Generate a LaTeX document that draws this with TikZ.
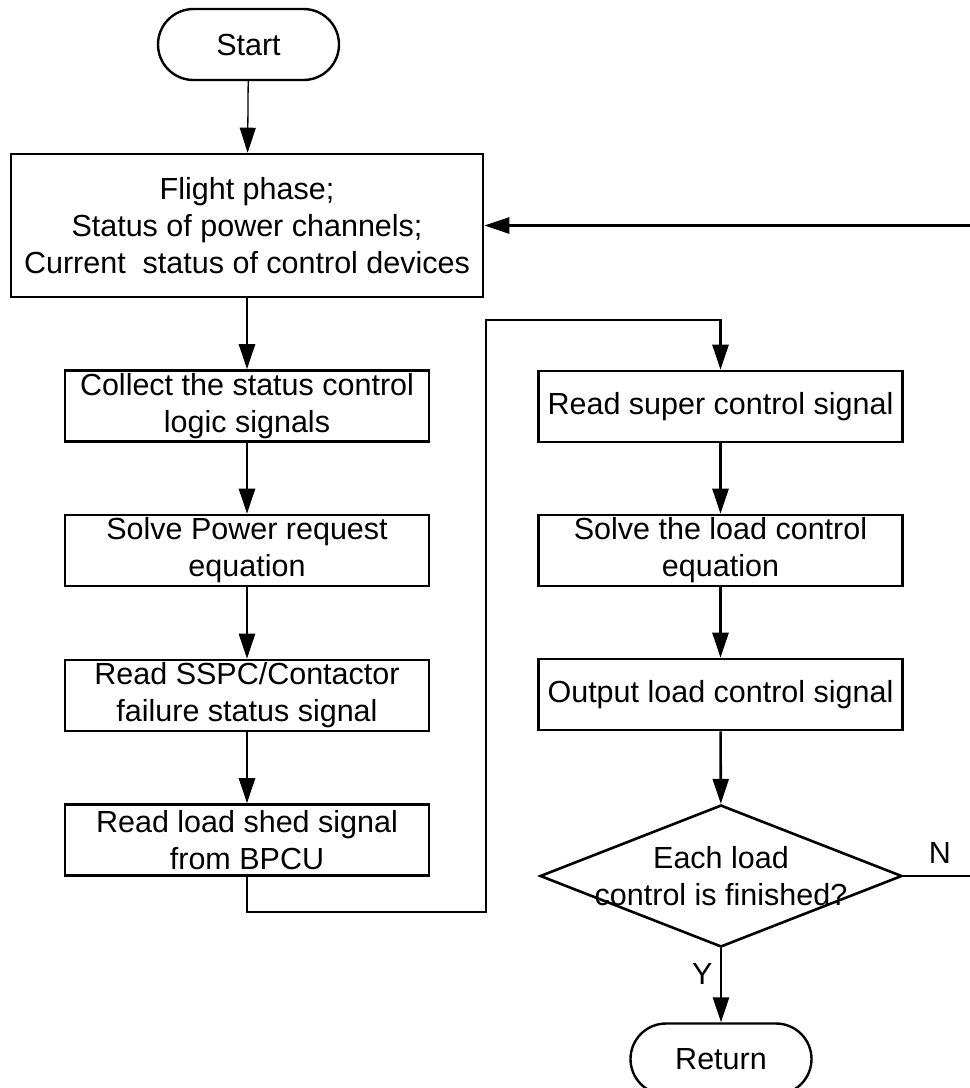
\documentclass[tikz,border=0pt]{standalone}
\usepackage{fontspec}
\setmainfont{Liberation Sans}
\usetikzlibrary{arrows.meta,shapes.geometric,shapes.misc}

\begin{document}
\begin{tikzpicture}[x=1pt, y=-1pt,
		txt/.style={font=\fontsize{30.5}{37}\selectfont},
		box/.style={txt, rectangle, draw, line width=2.6pt, minimum width=364pt, minimum height=71pt, inner sep=0pt, align=center},
		term/.style={txt, rounded rectangle, draw, line width=2.4pt, minimum width=181pt, minimum height=71pt, inner sep=0pt},
		flow/.style={-{Triangle[length=25pt, width=16pt]}, line width=2.6pt}]
		\useasboundingbox (0,0) rectangle (970,1088);

		\node[term] (start) at (248.5,44.5) {Start};
		\node[box, minimum width=472pt, minimum height=143pt] (phase) at (247,225.5) {Flight phase;\\Status of power channels;\\Current\ \ status of control devices};

		% left column
		\node[box] (collect) at (247,406) {Collect the status control\\logic signals};
		\node[box] (request) at (247,550.5) {Solve Power request\\equation};
		\node[box] (failure) at (247,695.5) {Read SSPC/Contactor\\failure status signal};
		\node[box] (shed) at (247,840) {Read load shed signal\\from BPCU};

		% right column
		\node[box] (super) at (720.5,406.5) {Read super control signal};
		\node[box] (solve) at (720.5,550.5) {Solve the load control\\equation};
		\node[box] (output) at (720.5,694.5) {Output load control signal};
		\node[diamond, draw, line width=2.6pt, minimum width=362pt, minimum height=142pt, inner sep=0pt,
			label={[txt, align=center]center:Each load\\control is finished?}] (check) at (721,876) {};
		\node[term] (return) at (721,1059) {Return};

		\coordinate (jogA) at (486,912);
		\coordinate (jogB) at (486,320);
		\coordinate (jogC) at (972,876);
		\coordinate (jogD) at (972,225.5);

		\draw[flow, line width=1.3pt] (start) -- (phase);
		\draw[flow] (phase) -- (collect);
		\draw[flow] (collect) -- (request);
		\draw[flow] (request) -- (failure);
		\draw[flow] (failure) -- (shed);
		\draw[flow] (shed.south) |- (jogA) -- (jogB) -| (super.north);
		\draw[flow] (super) -- (solve);
		\draw[flow] (solve) -- (output);
		\draw[flow] (output) -- (check);
		\draw[flow] (check) -- node[txt, left, xshift=-4pt, yshift=11pt]{Y} (return);
		\draw[flow] (check.east) -- (jogC) -- (jogD) -- (phase.east);
		\node[txt] (no) at (940,853) {N};
	\end{tikzpicture}
\end{document}
